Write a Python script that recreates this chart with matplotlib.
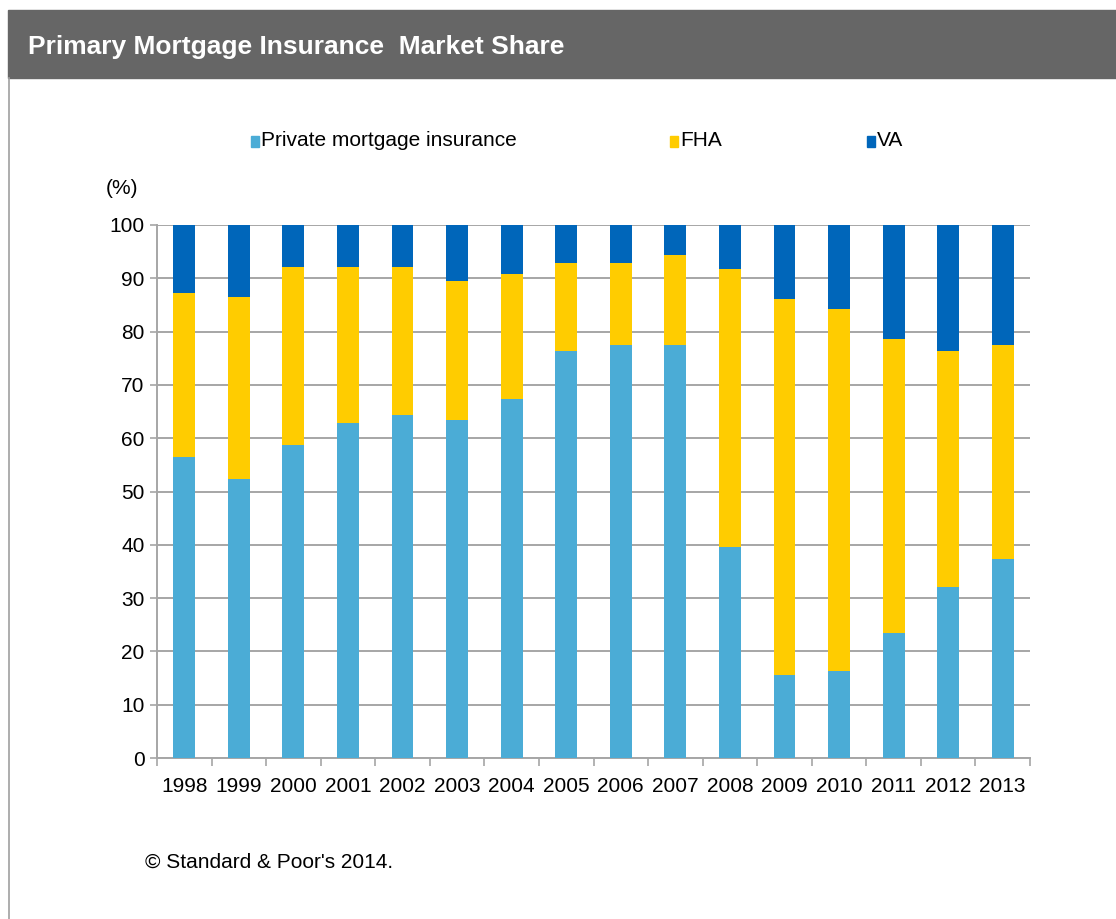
import numpy as np
import matplotlib.pyplot as plt
from matplotlib.patches import Rectangle
from matplotlib.lines import Line2D

plt.rcParams['font.family'] = ['Liberation Sans', 'DejaVu Sans']

# Market share by year (%)
years = ['1998', '1999', '2000', '2001', '2002', '2003', '2004', '2005',
         '2006', '2007', '2008', '2009', '2010', '2011', '2012', '2013']
private_mi = [56.4, 52.3, 58.7, 62.8, 64.3, 63.5, 67.3, 76.3,
              77.4, 77.4, 39.6, 15.6, 16.3, 23.5, 32.1, 37.3]
fha = [30.8, 34.1, 33.4, 29.3, 27.8, 25.9, 23.6, 16.5,
       15.4, 16.9, 52.1, 70.5, 67.9, 55.1, 44.2, 40.1]
va = [12.8, 13.6, 7.9, 7.9, 7.9, 10.6, 9.1, 7.2,
      7.2, 5.7, 8.3, 13.9, 15.8, 21.4, 23.7, 22.6]

c_pmi = '#4BACD6'
c_fha = '#FFCC00'
c_va = '#0066BA'
grid_c = '#A6A6A6'
fs = 15

W, H = 1116, 919
fig = plt.figure(figsize=(W / 100, H / 100), dpi=100)

# header band and frame
fig.patches.append(Rectangle((8 / W, 1 - 78 / H), 1 - 8 / W, 68 / H,
                             transform=fig.transFigure, color='#666666', zorder=0))
fig.lines.append(Line2D([8.5 / W, 8.5 / W], [0, 1 - 78 / H], transform=fig.transFigure,
                        color='#A0A0A0', lw=1.2))
fig.text(28 / W, 1 - 47 / H, 'Primary Mortgage Insurance  Market Share', color='white',
         fontsize=19, fontweight='bold', va='center', ha='left')

ax = fig.add_axes([157 / W, 1 - 758 / H, (1030 - 157) / W, (758 - 225) / H])
x = np.arange(len(years))
bw = 0.4
ax.bar(x, private_mi, bw, color=c_pmi, label='Private mortgage insurance', zorder=3)
ax.bar(x, fha, bw, bottom=private_mi, color=c_fha, label='FHA', zorder=3)
bottom_va = np.array(private_mi) + np.array(fha)
ax.bar(x, va, bw, bottom=bottom_va, color=c_va, label='VA', zorder=3)

ax.set_xlim(-0.5, len(years) - 0.5)
ax.set_ylim(0, 100)
ax.set_yticks(range(0, 101, 10))
ax.set_xticks(x)
ax.set_xticklabels(years)
ax.set_xticks(np.arange(-0.5, len(years), 1), minor=True)
ax.tick_params(axis='x', which='major', length=0, pad=14, labelsize=fs)
ax.tick_params(axis='x', which='minor', length=6, color=grid_c, width=1.2)
ax.tick_params(axis='y', length=5, color=grid_c, width=1.2, labelsize=fs, pad=4)
ax.grid(axis='y', color=grid_c, lw=1.4, zorder=0)
for s in ['top', 'right']:
    ax.spines[s].set_visible(False)
for s in ['left', 'bottom']:
    ax.spines[s].set_color(grid_c)
    ax.spines[s].set_linewidth(1.4)

fig.text(106 / W, 1 - 188 / H, '(%)', fontsize=fs, va='center', ha='left')

# legend entries placed individually
leg_items = [('Private mortgage insurance', c_pmi, 251), ('FHA', c_fha, 670), ('VA', c_va, 867)]
for label, col, px in leg_items:
    fig.patches.append(Rectangle((px / W, 1 - 147 / H), 8 / W, 11 / H,
                                 transform=fig.transFigure, color=col))
    fig.text((px + 10) / W, 1 - 141 / H, label, fontsize=fs, va='center', ha='left')

fig.text(145 / W, 1 - 862 / H, '\u00a9 Standard & Poor\'s 2014.', fontsize=15,
         va='center', ha='left')

fig.savefig('out.png', dpi=100)
